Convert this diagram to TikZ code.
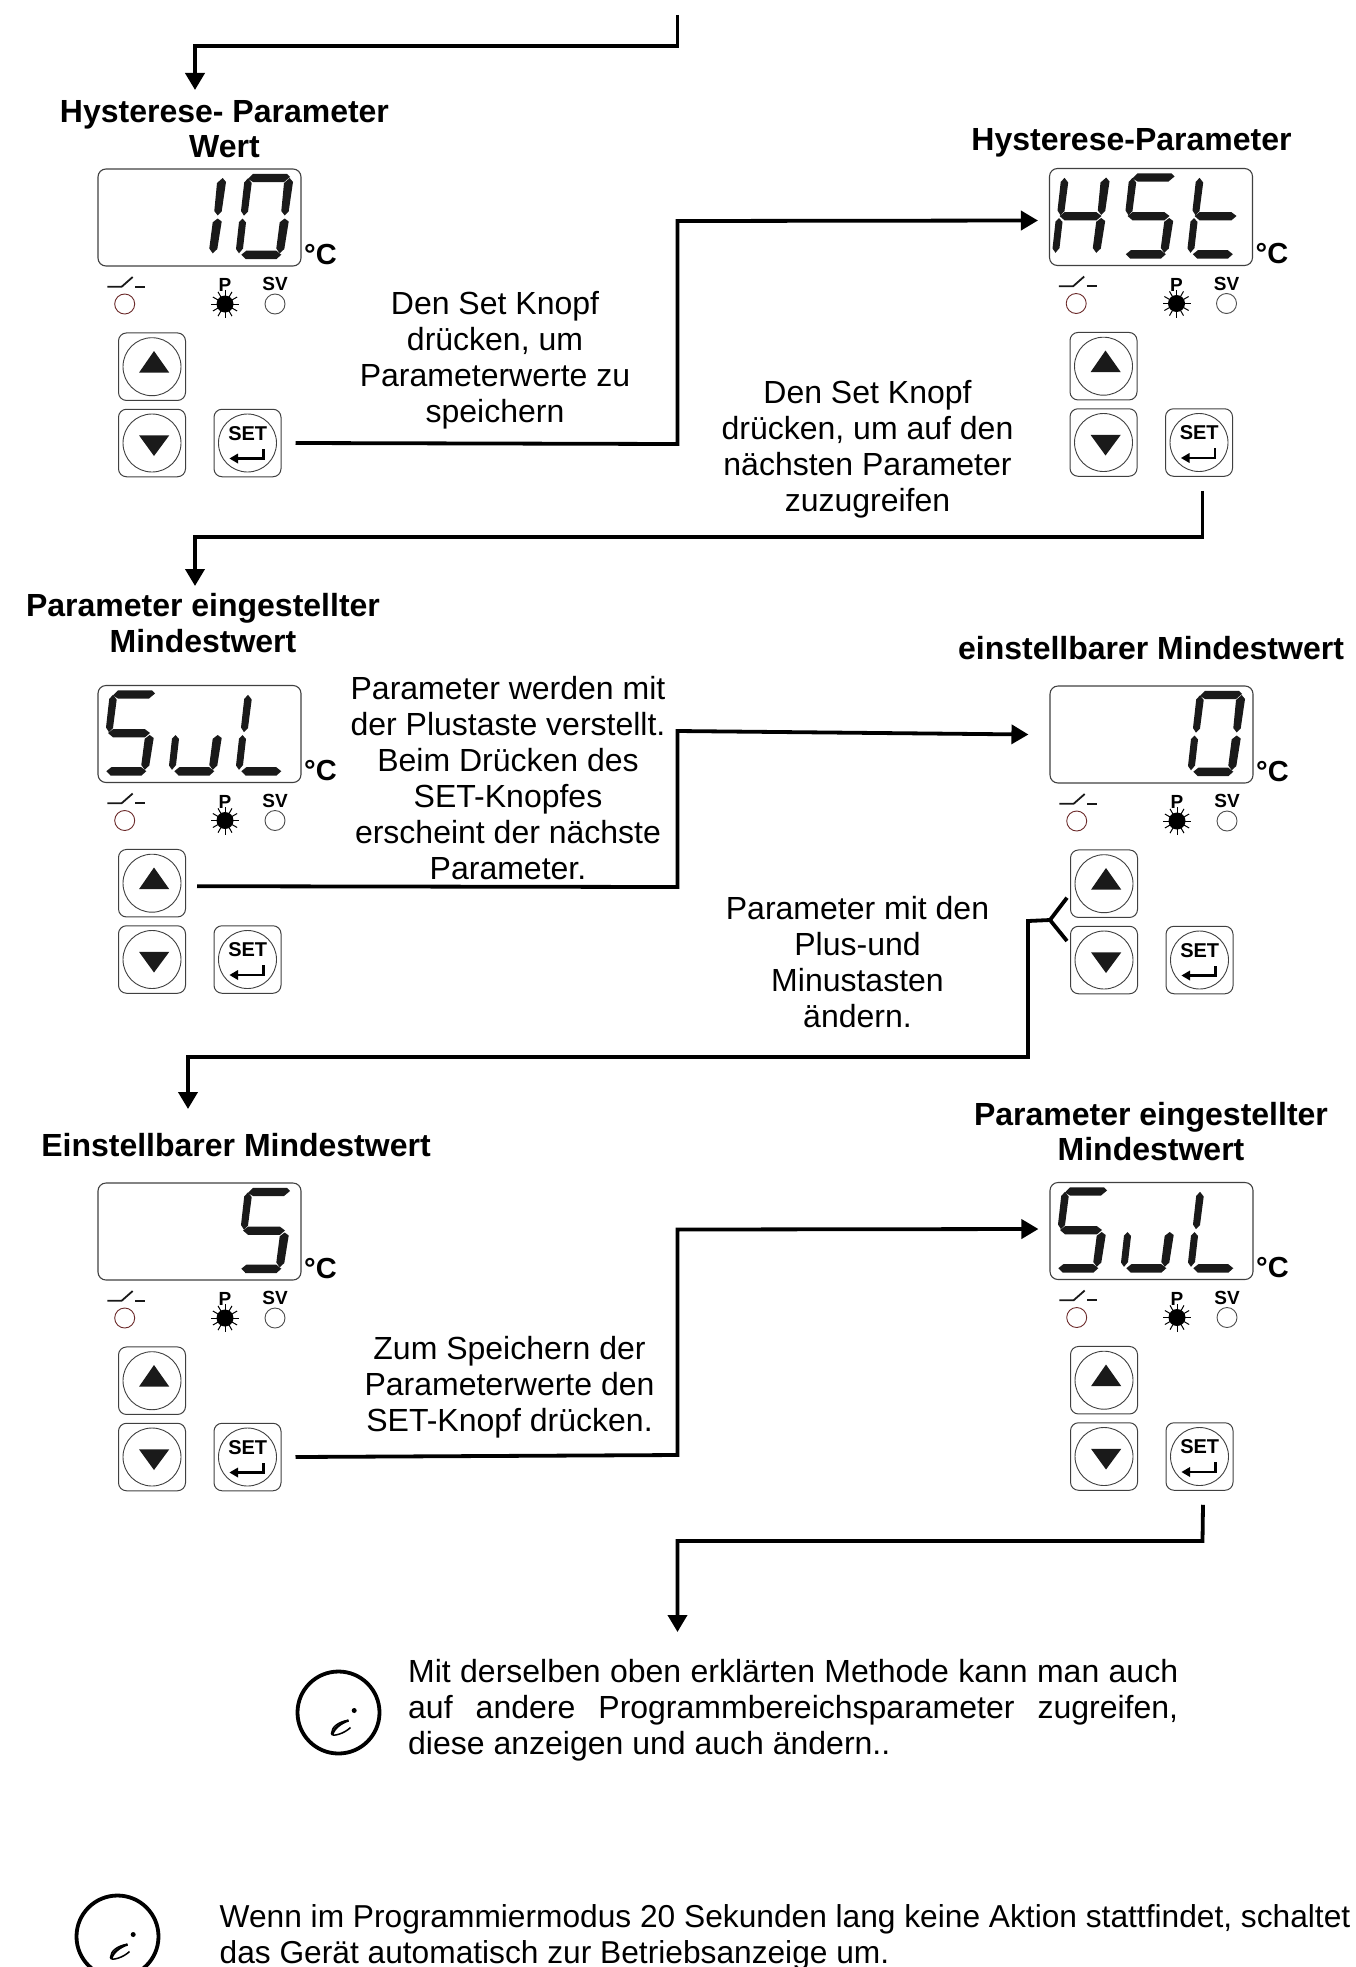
\documentclass[tikz,border=0pt]{standalone}
\usepackage{fontspec}
\setmainfont{Liberation Sans}
\usetikzlibrary{arrows.meta}

\definecolor{segcol}{HTML}{1A1A1A}
\definecolor{ledred}{HTML}{6B2A2A}

\tikzset{
  body/.style={font=\fontsize{32}{36}\selectfont,align=center,inner sep=0pt},
  head/.style={font=\fontsize{32}{35.5}\selectfont\bfseries,align=center,inner sep=0pt},
  flow/.style={line width=3.8pt,-{Triangle[length=17pt,width=19pt]}},
  flowline/.style={line width=3.8pt},
  display/.style={draw=black!75,line width=1.1pt,rounded corners=8pt,minimum width=203pt,minimum height=97pt,inner sep=0pt},
  btn/.style={draw=black!75,line width=1pt,rounded corners=8pt,minimum width=67pt,minimum height=67.5pt,inner sep=0pt},
  btnring/.style={draw=black!75,line width=0.9pt,circle,minimum size=58pt,inner sep=0pt},
  led/.style={draw=black!70,line width=0.9pt,circle,minimum size=20pt,inner sep=0pt},
  small/.style={font=\fontsize{19}{19}\selectfont\bfseries,inner sep=0pt},
  infoc/.style={draw,line width=3.8pt,circle,minimum size=82pt,inner sep=0pt},
  seg a/.pic={\fill[segcol] (10,10) -- (15,4.8) -- (49,4.8) -- (52,8) -- (46,13) -- (15,13) -- cycle;},
  seg b/.pic={\fill[segcol] (51.7,9) -- (55,13) -- (50.7,42.5) -- (46.7,46.5) -- (43.3,42) -- (46,14) -- cycle;},
  seg c/.pic={\fill[segcol] (46.7,49.5) -- (50.7,52.5) -- (46.3,80) -- (41.7,84.3) -- (38.3,79.5) -- (41.7,53.3) -- cycle;},
  seg d/.pic={\fill[segcol] (3.3,85.7) -- (8.3,81.7) -- (38.3,81.7) -- (43.3,85.7) -- (38.3,90.2) -- (7.7,90.2) -- cycle;},
  seg e/.pic={\fill[segcol] (4.5,49.5) -- (8,53.5) -- (5,79.5) -- (1,84.3) -- (-2,80) -- (1,53) -- cycle;},
  seg f/.pic={\fill[segcol] (10,9.3) -- (13.7,14) -- (10,42.5) -- (6,46.7) -- (3,42) -- (6.2,13.5) -- cycle;},
  seg g/.pic={\fill[segcol] (5,47.5) -- (10,43.7) -- (42,43.7) -- (47,47.5) -- (42,51.8) -- (10,51.8) -- cycle;},
}

% one digit: cell offset, list of segments
\newcommand{\digit}[2]{%
  \foreach \s in {#2} {\pic at (#1,0) {seg \s};}
}

% one controller: name, x, y, digits
\newcommand{\panel}[4]{%
  \begin{scope}[shift={(#2,#3)}]
    \node[display] (#1disp) at (101.5,48.5) {};
    #4
    \node[font=\fontsize{29}{29}\selectfont\bfseries,inner sep=0pt] (#1unit) at (222.5,85.5) {°C};
    % switch and leds
    \draw[line width=1.8pt,black!90] (9.3,117.7) -- (23.7,117.7) -- (34.7,108);
    \draw[line width=1.8pt,black!90] (37,117.7) -- (47,117.7);
    \node[led,draw=ledred] (#1led) at (26.7,135) {};
    \node[small] (#1p) at (127,116) {P};
    \node[circle,fill=black,minimum size=17pt,inner sep=0pt] (#1pled) at (127,135) {};
    \foreach \a in {0,30,...,330} {\draw[line width=1pt] (#1pled.center) ++(\a:8) -- ++(\a:6);}
    \node[small] (#1sv) at (177,115) {SV};
    \node[led] (#1svled) at (177,135) {};
    % buttons
    \node[btn] (#1up) at (54,197.7) {};
    \node[btnring] at (54,197.7) {};
    \fill[segcol] (41,203.7) -- (71.3,203.7) -- (56,182) -- cycle;
    \node[btn] (#1down) at (54,274) {};
    \node[btnring] at (54,274) {};
    \fill[segcol] (41,266.3) -- (71.3,266.3) -- (56,287) -- cycle;
    \node[btn] (#1set) at (149.5,274) {};
    \node[btnring] at (149.5,274) {};
    \node[font=\fontsize{20}{20}\selectfont\bfseries,inner sep=0pt] (#1settxt) at (149.7,264.3) {SET};
    \draw[line width=2.8pt,black] (139,289.5) -- (165.5,289.5) -- (165.5,279.5);
    \fill[black] (131.5,289.5) -- (140,284.5) -- (140,294.5) -- cycle;
  \end{scope}
}

% info sign: name, x, y
\newcommand{\infosign}[3]{%
  \node[infoc] (#1) at (#2,#3) {};
  \begin{scope}[shift={(#2,#3)}]
    \fill (15.7,-2) circle (2.5);
    \draw[line width=1.5pt] (10,7.7) .. controls (1,9) and (-7,14) .. (-7,21) .. controls (-7,25) and (6,21) .. (12,15);
    \draw[line width=2.4pt] (10,8) .. controls (3,10) and (-5,16) .. (-6,22);
  \end{scope}
}

\begin{document}
\begin{tikzpicture}[x=1pt,y=-1pt]
\useasboundingbox (0,0) rectangle (1355,1967);
\clip (0,0) rectangle (1355,1967);

% the six controllers
\panel{pa}{98}{169}{\digit{73}{b,c}\digit{140}{a,b,c,d,e,f}}
\panel{pb}{1049.5}{168.5}{\digit{5}{b,c,e,f,g}\digit{73}{a,c,d,f,g}\digit{140}{d,e,f,g}}
\panel{pc}{98}{685.5}{\digit{5}{a,c,d,f,g}\digit{73}{c,d,e}\digit{140}{d,e,f}}
\panel{pd}{1050}{686}{\digit{140}{a,b,c,d,e,f}}
\panel{pe}{98}{1183}{\digit{140}{a,c,d,f,g}}
\panel{pf}{1050}{1182.5}{\digit{5}{a,c,d,f,g}\digit{73}{c,d,e}\digit{140}{d,e,f}}

% titles
\node[head] (ha) at (224.5,129) {Hysterese- Parameter\\Wert};
\node[head] (hb) at (1131.5,142.5) {Hysterese-Parameter};
\node[head] (hc) at (203,623) {Parameter eingestellter\\Mindestwert};
\node[head] (hd) at (1151,648.5) {einstellbarer Mindestwert};
\node[head] (he) at (236,1145.5) {Einstellbarer Mindestwert};
\node[head] (hf) at (1151,1131.5) {Parameter eingestellter\\Mindestwert};

% notes
\node[body] (ta) at (495,360) {Den Set Knopf\\drücken, um\\Parameterwerte zu\\speichern};
\node[body] (tb) at (867.5,449) {Den Set Knopf\\drücken, um auf den\\nächsten Parameter\\zuzugreifen};
\node[body] (tc) at (508,778.5) {Parameter werden mit\\der Plustaste verstellt.\\Beim Drücken des\\SET-Knopfes\\erscheint der nächste\\Parameter.};
\node[body] (td) at (857.5,962) {Parameter mit den\\Plus-und\\Minustasten\\ändern.};
\node[body] (te) at (509.5,1387.5) {Zum Speichern der\\Parameterwerte den\\SET-Knopf drücken.};

% connectors
\coordinate (start) at (677.5,15);
\coordinate (fork) at (1050,920);
\draw[flow] (start) -- (677.5,46) -- (195,46) -- (195,90);
\draw[flow] ([xshift=14]paset.east) -- (677.5,444) -- (677.5,221) -- ([xshift=-11,yshift=-3.5]pbdisp.west);
\draw[flow] ([xshift=3.5,yshift=-14]pbset.south) -- (1202.5,537) -- (195,537) -- (195,586);
\draw[flow] ([xshift=11,yshift=-3]pcup.east) -- (677.5,887) -- (677.5,731) -- ([xshift=-21]pddisp.west);
\draw[flowline] ([shift={(-3,14)}]pdup.west) -- (fork);
\draw[flowline] ([shift={(-3,-19)}]pddown.west) -- (fork);
\draw[flow] (fork) -- (1028,921) -- (1028,1057) -- (188,1057) -- (188,1109);
\draw[flow] ([xshift=14]peset.east) -- (677.5,1455) -- (677.5,1229.5) -- ([xshift=-11,yshift=2]pfdisp.west);
\draw[flow] ([xshift=3.5,yshift=-14]pfset.south) -- (1202.5,1541) -- (677.5,1541) -- (677.5,1632);

% hints at the end
\infosign{ia}{338.5}{1712.5}
\infosign{ib}{117.5}{1936.5}
\node[body,align=justify,text width=770pt,anchor=north west] (tf) at (408,1659.2) {Mit derselben oben erklärten Methode kann man auch auf andere Programmbereichsparameter zugreifen, diese anzeigen und auch ändern..};
\node[body,font=\fontsize{31.7}{36}\selectfont,align=left,anchor=north west] (tg) at (219.5,1904) {Wenn im Programmiermodus 20 Sekunden lang keine Aktion stattfindet, schaltet\\das Gerät automatisch zur Betriebsanzeige um.};

\end{tikzpicture}
\end{document}
